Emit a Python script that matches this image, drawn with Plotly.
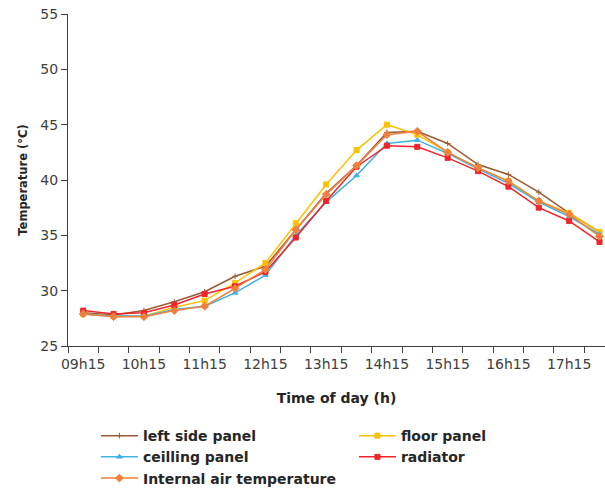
import plotly.graph_objects as go

times = ["09h15", "09h45", "10h15", "10h45", "11h15", "11h45", "12h15", "12h45",
         "13h15", "13h45", "14h15", "14h45", "15h15", "15h45", "16h15", "16h45",
         "17h15", "17h45"]

left_side_panel = [28.0, 27.8, 28.2, 29.0, 29.9, 31.3, 32.2, 35.5, 38.8, 41.3, 44.3, 44.4,
                   43.3, 41.4, 40.5, 38.9, 37.0, 35.3]
floor_panel = [27.9, 27.7, 27.7, 28.5, 29.1, 30.7, 32.5, 36.1, 39.6, 42.7, 45.0, 44.1,
               42.5, 41.1, 39.9, 38.1, 37.0, 35.3]
ceiling_panel = [27.9, 27.7, 27.7, 28.3, 28.6, 29.8, 31.4, 35.0, 38.0, 40.4, 43.3, 43.6,
                 42.4, 41.0, 39.7, 38.0, 36.7, 35.1]
radiator = [28.2, 27.9, 28.0, 28.7, 29.7, 30.4, 31.7, 34.8, 38.1, 41.2, 43.1, 43.0,
            42.0, 40.8, 39.4, 37.5, 36.3, 34.4]
internal_air = [27.9, 27.65, 27.65, 28.2, 28.6, 30.2, 31.9, 35.5, 38.7, 41.3, 44.1, 44.4,
                42.5, 41.1, 39.9, 38.1, 36.9, 34.9]

labels_shown = times[::2]

series = [
    ("left side panel", left_side_panel, "#9A5A34", "cross-thin-open", 4),
    ("floor panel", floor_panel, "#FFC000", "square", 5),
    ("ceilling panel", ceiling_panel, "#3EB3E6", "triangle-up", 5),
    ("radiator", radiator, "#F0242A", "square", 5),
    ("Internal air temperature", internal_air, "#F0803C", "diamond", 6),
]

x_idx = list(range(len(times)))

fig = go.Figure()
for name, vals, col, sym, ms in series:
    fig.add_trace(go.Scatter(
        x=x_idx, y=vals, name=name, mode="lines+markers",
        line=dict(color=col, width=1.5),
        marker=dict(color=col, symbol=sym, size=ms, line=dict(color=col, width=1)),
        cliponaxis=False,
    ))

fig.update_layout(
    width=605, height=489,
    margin=dict(l=68, r=0, t=14, b=143, autoexpand=False),
    plot_bgcolor="white", paper_bgcolor="white",
    font=dict(family="DejaVu Sans", color="#404040", size=14),
    showlegend=True,
    legend=dict(
        orientation="h", x=0.052, xanchor="left", y=-0.223, yanchor="top",
        entrywidth=206, entrywidthmode="pixels",
        font=dict(family="DejaVu Sans", size=14, color="#262626", weight="bold"),
        traceorder="normal", itemwidth=37,
        bgcolor="rgba(0,0,0,0)",
    ),
    xaxis=dict(
        range=[-0.5, 17.18],
        tickmode="array", tickvals=x_idx[::2], ticktext=labels_shown,
        ticks="outside", ticklen=5, tickcolor="rgba(0,0,0,0)",
        showline=True, linecolor="#404040", linewidth=1.2,
        showgrid=False, zeroline=False,
        tickfont=dict(size=14, color="#404040"),
        minor=dict(tickmode="array", tickvals=[i - 0.5 for i in range(len(times) + 1)],
                   ticks="outside", ticklen=6, tickcolor="#404040", tickwidth=1.2,
                   showgrid=False),
        title=dict(text="<b>Time of day (h)</b>", font=dict(size=14, color="#262626"), standoff=22),
    ),
    yaxis=dict(
        range=[25, 55], tickvals=[25, 30, 35, 40, 45, 50, 55],
        ticks="outside", ticklen=6, tickcolor="#404040", tickwidth=1.2,
        showline=True, linecolor="#404040", linewidth=1.2,
        showgrid=False, zeroline=False,
        tickfont=dict(size=14, color="#404040"),
        title=dict(text="<b>Temperature (°C)</b>", font=dict(size=11.5, color="#262626"), standoff=10),
    ),
)

fig.write_html("out.html")
